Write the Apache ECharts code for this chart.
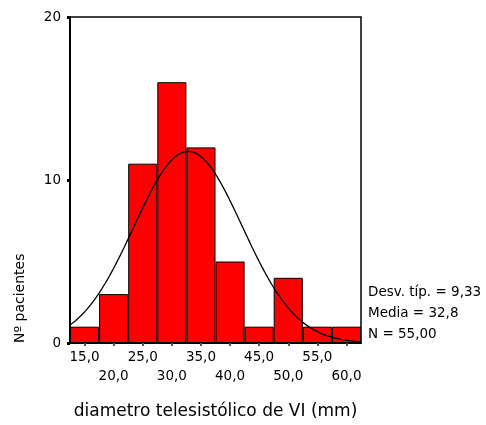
<!DOCTYPE html>
<html>
<head>
<meta charset="utf-8">
<script src="https://cdn.jsdelivr.net/npm/echarts@6/dist/echarts.min.js"></script>
<style>
  html, body { margin: 0; padding: 0; background: #fff; }
  #chart { width: 486px; height: 425px; }
</style>
</head>
<body>
<div id="chart"></div>
<script>
// Histogram bins (class centres, mm) and patient counts
const binCenters = [15, 20, 25, 30, 35, 40, 45, 50, 55, 60];
const counts = [1, 3, 11, 16, 12, 5, 1, 4, 1, 1];
const binWidth = 5;

// Summary statistics shown beside the plot
const meanValue = 32.8;
const sdValue = 9.33;
const nValue = 55;
const statLines = ['Desv. típ. = 9,33', 'Media = 32,8', 'N = 55,00'];

// Axis settings
const yTicks = [0, 10, 20];
const xTitle = 'diametro telesistólico de VI (mm)';
const yTitle = 'Nº pacientes';

const FONT = '"DejaVu Sans", sans-serif';

// Fitted normal curve scaled to counts per bin
const xMin = binCenters[0] - binWidth / 2;
const xMax = binCenters[binCenters.length - 1] + binWidth / 2;
const curve = [];
for (let x = xMin; x <= xMax + 1e-9; x += 0.25) {
  const z = (x - meanValue) / sdValue;
  const y = nValue * binWidth / (sdValue * Math.sqrt(2 * Math.PI)) * Math.exp(-0.5 * z * z);
  curve.push([x, y]);
}

const fmt = v => Number(v).toFixed(1).replace('.', ',');

const chart = echarts.init(document.getElementById('chart'));
chart.setOption({
  animation: false,
  backgroundColor: '#fff',
  grid: {
    left: 70, top: 17, width: 291, height: 327,
    show: true, borderColor: '#000', borderWidth: 1.5
  },
  xAxis: [
    {
      type: 'category',
      data: binCenters,
      boundaryGap: true,
      axisLine: { show: true, lineStyle: { color: '#000', width: 2 } },
      axisTick: { show: true, alignWithLabel: true, length: 3, lineStyle: { color: '#555', width: 2 } },
      axisLabel: {
        margin: 5,
        fontFamily: FONT, fontSize: 13.5, color: '#000', lineHeight: 19,
        interval: 0,
        formatter: (v, i) => (i % 2 ? '\n' : '') + fmt(v)
      },
      name: xTitle,
      nameLocation: 'middle',
      nameGap: 60,
      nameTextStyle: { fontFamily: FONT, fontSize: 17, color: '#000' }
    },
    {
      type: 'value',
      min: xMin, max: xMax,
      show: false
    }
  ],
  yAxis: {
    type: 'value',
    min: yTicks[0], max: yTicks[yTicks.length - 1], interval: yTicks[1] - yTicks[0],
    axisLine: { show: true, lineStyle: { color: '#000', width: 2 } },
    axisTick: { show: true, length: 3, lineStyle: { color: '#000', width: 3 } },
    splitLine: { show: false },
    axisLabel: { margin: 9, fontFamily: FONT, fontSize: 13.5, color: '#000' }
  },
  series: [
    {
      type: 'bar',
      data: counts,
      barWidth: '100%',
      itemStyle: { color: '#ff0000', borderColor: '#000', borderWidth: 1 }
    },
    {
      type: 'line',
      xAxisIndex: 1,
      data: curve,
      showSymbol: false,
      smooth: false,
      lineStyle: { color: '#000', width: 1.3 },
      z: 5
    }
  ],
  graphic: [
    ...statLines.map((t, i) => ({
      type: 'text',
      x: 368, y: 292 + i * 21,
      style: { text: t, font: '13.5px ' + FONT, fill: '#000', align: 'left', verticalAlign: 'middle' }
    })),
    {
      type: 'text',
      x: 20, y: 343,
      rotation: Math.PI / 2,
      style: { text: yTitle, font: '14px ' + FONT, fill: '#000', align: 'left', verticalAlign: 'middle' }
    }
  ]
});
</script>
</body>
</html>
